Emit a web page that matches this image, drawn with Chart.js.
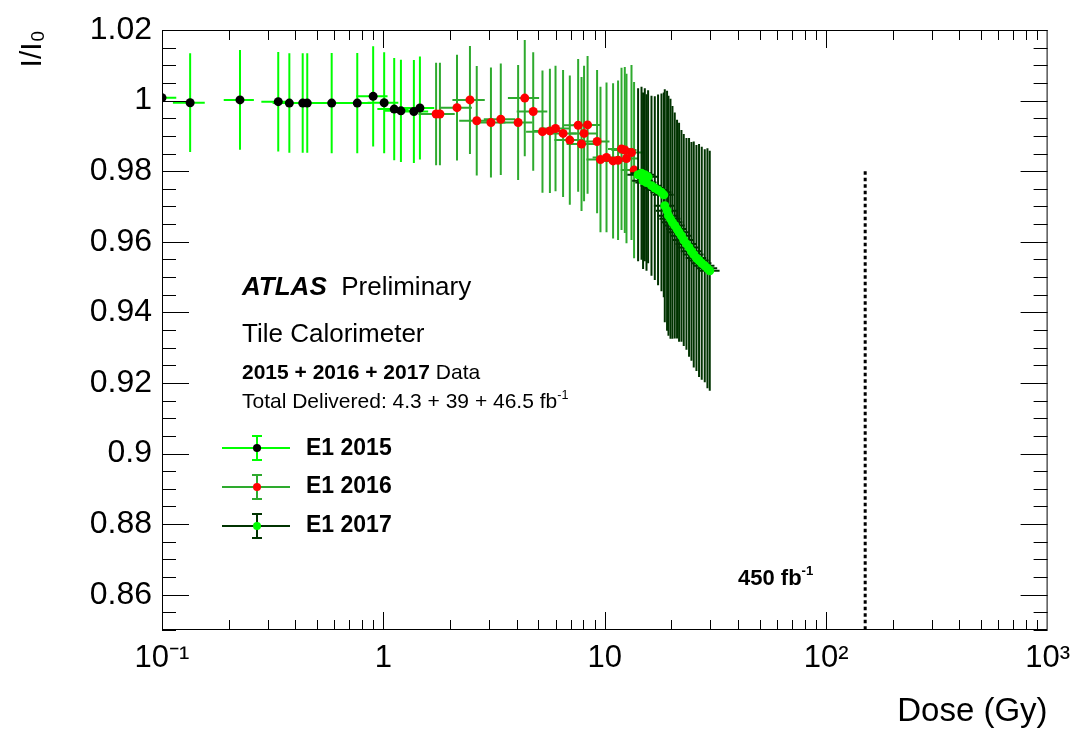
<!DOCTYPE html>
<html lang="en">
<head>
<meta charset="UTF-8">
<title>Tile Calorimeter E1 response vs dose</title>
<script src="https://cdn.jsdelivr.net/npm/chart.js"></script>
<style>
    body {
        margin: 0;
        background: #fff;
        font-family: 'Liberation Sans', Arial, Helvetica, sans-serif;
        color: #000;
    }
    .wrap {
        position: relative;
        width: 1080px;
        height: 739px;
    }
    canvas {
        position: absolute;
        left: 0;
        top: 0;
    }
    .note {
        position: absolute;
        line-height: 1;
        white-space: nowrap;
    }
    .note sup {
        font-size: 0.6em;
        vertical-align: 0.75em;
        line-height: 0;
    }
</style>
</head>
<body>
<div class="wrap">
    <canvas id="chart" width="1080" height="739"></canvas>
    <div class="note" style="left:242px;top:273px;font-size:26px;"><b><i>ATLAS</i></b>&nbsp; Preliminary</div>
    <div class="note" style="left:242px;top:320px;font-size:26px;">Tile Calorimeter</div>
    <div class="note" style="left:242px;top:361px;font-size:21px;"><b>2015 + 2016 + 2017</b> Data</div>
    <div class="note" style="left:242px;top:390px;font-size:21px;">Total Delivered: 4.3 + 39 + 46.5 fb<sup>-1</sup></div>
    <div class="note" style="left:306px;top:436px;font-size:23px;font-weight:bold;">E1 2015</div>
    <div class="note" style="left:306px;top:474px;font-size:23px;font-weight:bold;">E1 2016</div>
    <div class="note" style="left:306px;top:513px;font-size:23px;font-weight:bold;">E1 2017</div>
    <div class="note" style="left:738px;top:567px;font-size:22px;font-weight:bold;">450 fb<sup>-1</sup></div>
</div>
<script>
    // E1 cell response I/I0 against accumulated dose (Gy)
    const dose2015 = [0.100, 0.134, 0.225, 0.335, 0.376, 0.432, 0.453, 0.584, 0.762, 0.899, 1.008, 1.119, 1.200, 1.373, 1.462];
    const resp2015 = [1.0008, 0.9994, 1.0002, 0.9997, 0.9993, 0.9993, 0.9993, 0.9993, 0.9993, 1.0012, 0.9994, 0.9976, 0.9971, 0.9969, 0.9979];
    const doseErr2015 = [0.016, 0.022, 0.035, 0.054, 0.060, 0.070, 0.073, 0.094, 0.122, 0.145, 0.160, 0.180, 0.190, 0.220, 0.235];
    const respErr2015 = [0.0144, 0.0140, 0.0141, 0.0141, 0.0141, 0.0141, 0.0141, 0.0142, 0.0142, 0.0142, 0.0143, 0.0145, 0.0145, 0.0146, 0.0146];

    const dose2016 = [1.73, 1.80, 2.15, 2.46, 2.64, 3.06, 3.39, 4.06, 4.35, 4.75, 5.23, 5.65, 5.99, 6.48, 6.95, 7.58, 7.85, 8.06, 8.36, 9.23, 9.56, 10.18, 10.9, 11.48, 11.9, 12.31, 12.53, 13.2, 13.56];
    const resp2016 = [0.9962, 0.9962, 0.9980, 1.0002, 0.9943, 0.9938, 0.9947, 0.9938, 1.0007, 0.9969, 0.9912, 0.9914, 0.9921, 0.9907, 0.9888, 0.9930, 0.9877, 0.9907, 0.9931, 0.9884, 0.9833, 0.9839, 0.9829, 0.9831, 0.9863, 0.9860, 0.9836, 0.9853, 0.9803];
    const doseErr2016 = [0.29, 0.30, 0.36, 0.41, 0.44, 0.50, 0.55, 0.65, 0.70, 0.75, 0.82, 0.87, 0.92, 0.98, 1.03, 1.10, 1.13, 1.15, 1.18, 1.27, 1.30, 1.37, 1.45, 1.52, 1.56, 1.60, 1.63, 1.70, 1.75];
    const respErr2016 = [0.0145, 0.0145, 0.0150, 0.0153, 0.0155, 0.0156, 0.0158, 0.0163, 0.0165, 0.0168, 0.0173, 0.0176, 0.0178, 0.0180, 0.0183, 0.0188, 0.0190, 0.0192, 0.0195, 0.0203, 0.0206, 0.0212, 0.0220, 0.0226, 0.0230, 0.0235, 0.0240, 0.0248, 0.0250];

    const dose2017 = [14.14, 14.65, 14.89, 15.16, 15.43, 15.69, 16.25, 16.82, 17.40, 18.03, 18.47, 18.66, 19.11, 19.39, 19.80, 20.21, 20.70, 21.20, 21.65, 22.19, 22.73, 23.38, 24.02, 24.63, 25.22, 25.94, 26.65, 27.41, 28.28, 29.08, 29.79];
    const resp2017 = [0.9790, 0.9794, 0.9773, 0.9790, 0.9768, 0.9784, 0.9759, 0.9752, 0.9747, 0.9740, 0.9733, 0.9702, 0.9688, 0.9674, 0.9665, 0.9655, 0.9646, 0.9636, 0.9627, 0.9617, 0.9605, 0.9594, 0.9584, 0.9573, 0.9564, 0.9554, 0.9547, 0.9539, 0.9532, 0.9525, 0.9518];
    const doseErr2017 = [1.5, 1.6, 1.6, 1.65, 1.7, 1.7, 1.75, 1.8, 1.9, 1.95, 2.0, 2.0, 2.1, 2.1, 2.15, 2.2, 2.25, 2.3, 2.35, 2.4, 2.45, 2.5, 2.55, 2.6, 2.7, 2.75, 2.8, 2.9, 3.0, 3.1, 3.2];
    const respErr2017 = [0.0245, 0.0245, 0.025, 0.0245, 0.025, 0.0245, 0.0255, 0.026, 0.027, 0.028, 0.029, 0.033, 0.034, 0.034, 0.034, 0.033, 0.032, 0.031, 0.031, 0.030, 0.030, 0.030, 0.031, 0.031, 0.032, 0.032, 0.033, 0.033, 0.033, 0.034, 0.034];

    const xTickValues = [0.1, 1, 10, 100, 1000];
    const xTickLabels = ['10\u207B\u00B9', '1', '10', '10\u00B2', '10\u00B3'];
    const yTickValues = [0.86, 0.88, 0.9, 0.92, 0.94, 0.96, 0.98, 1, 1.02];
    const yTickLabels = ['0.86', '0.88', '0.9', '0.92', '0.94', '0.96', '0.98', '1', '1.02'];

    // 450 fb-1 projection line
    const lumiLineDose = 150;
    const lumiLineTop = 0.98;

    const FONT = "'Liberation Sans', Arial, Helvetica, sans-serif";
    Chart.defaults.font.family = FONT;
    Chart.defaults.color = '#000';

    function makeSet(label, doses, resp, dErr, rErr, marker, bar, order) {
        return {
            label: label,
            data: doses.map((d, i) => ({ x: d, y: resp[i] })),
            xErr: dErr,
            yErr: rErr,
            barColor: bar,
            pointBackgroundColor: marker,
            pointBorderColor: marker,
            pointBorderWidth: 0,
            pointRadius: 4.5,
            pointHoverRadius: 4.5,
            showLine: false,
            order: order
        };
    }

    const datasets = [
        makeSet('E1 2015', dose2015, resp2015, doseErr2015, respErr2015, '#000000', '#00ff00', 2),
        makeSet('E1 2016', dose2016, resp2016, doseErr2016, respErr2016, '#ff0000', '#2eaa2e', 1),
        makeSet('E1 2017', dose2017, resp2017, doseErr2017, respErr2017, '#00ff00', '#003300', 0)
    ];

    // error bars drawn just before each dataset's markers
    const errorBars = {
        id: 'errorBars',
        beforeDatasetDraw(chart, args) {
            const ds = chart.data.datasets[args.index];
            const { ctx, chartArea: a, scales: { x, y } } = chart;
            ctx.save();
            ctx.beginPath();
            ctx.rect(a.left, a.top, a.right - a.left, a.bottom - a.top);
            ctx.clip();
            ctx.strokeStyle = ds.barColor;
            ctx.lineWidth = 2;
            ds.data.forEach((p, i) => {
                const px = x.getPixelForValue(p.x);
                const py = y.getPixelForValue(p.y);
                ctx.beginPath();
                ctx.moveTo(px, y.getPixelForValue(p.y - ds.yErr[i]));
                ctx.lineTo(px, y.getPixelForValue(p.y + ds.yErr[i]));
                ctx.moveTo(x.getPixelForValue(p.x - ds.xErr[i]), py);
                ctx.lineTo(x.getPixelForValue(p.x + ds.xErr[i]), py);
                ctx.stroke();
            });
            ctx.restore();
        }
    };

    // ROOT-style frame with inward ticks on all sides, dotted line and legend symbols
    const rootFrame = {
        id: 'rootFrame',
        afterDraw(chart) {
            const { ctx, chartArea: a, scales: { x, y } } = chart;
            ctx.save();
            ctx.strokeStyle = '#000';
            ctx.lineWidth = 1;
            ctx.strokeRect(a.left + 0.5, a.top + 0.5, a.right - a.left - 1, a.bottom - a.top - 1);

            ctx.beginPath();
            for (let k = 0; k <= 34; k++) {
                const v = 0.85 + k * 0.005;
                const major = Math.round(v * 1000) % 20 === 0;
                const len = major ? 27 : 14;
                const py = Math.round(y.getPixelForValue(v)) + 0.5;
                ctx.moveTo(a.left, py); ctx.lineTo(a.left + len, py);
                ctx.moveTo(a.right, py); ctx.lineTo(a.right - len, py);
            }
            for (let e = -1; e < 3; e++) {
                for (let m = 1; m <= 9; m++) {
                    const v = m * Math.pow(10, e);
                    const len = m === 1 ? 18 : 10;
                    const px = Math.round(x.getPixelForValue(v)) + 0.5;
                    ctx.moveTo(px, a.bottom); ctx.lineTo(px, a.bottom - len);
                    ctx.moveTo(px, a.top); ctx.lineTo(px, a.top + len);
                }
            }
            ctx.stroke();

            // dotted 450 fb-1 line
            const lx = x.getPixelForValue(lumiLineDose);
            ctx.beginPath();
            ctx.setLineDash([3.5, 3]);
            ctx.lineWidth = 3;
            ctx.moveTo(lx, y.getPixelForValue(lumiLineTop));
            ctx.lineTo(lx, a.bottom);
            ctx.stroke();
            ctx.setLineDash([]);

            // legend symbols
            const rows = [448, 487, 526];
            chart.data.datasets.forEach((ds, i) => {
                const cy = rows[i];
                const cx = 257;
                ctx.strokeStyle = ds.barColor;
                ctx.lineWidth = 2;
                ctx.beginPath();
                ctx.moveTo(222, cy); ctx.lineTo(290, cy);
                ctx.moveTo(cx, cy - 12); ctx.lineTo(cx, cy + 12);
                ctx.moveTo(cx - 5, cy - 12); ctx.lineTo(cx + 5, cy - 12);
                ctx.moveTo(cx - 5, cy + 12); ctx.lineTo(cx + 5, cy + 12);
                ctx.stroke();
                ctx.fillStyle = ds.pointBackgroundColor;
                ctx.beginPath();
                ctx.arc(cx, cy, 4, 0, Math.PI * 2);
                ctx.fill();
            });
            ctx.restore();
        }
    };

    new Chart(document.getElementById('chart'), {
        type: 'scatter',
        data: { datasets: datasets },
        options: {
            responsive: false,
            animation: false,
            events: [],
            layout: { padding: { left: 0, right: 32, top: 30, bottom: 4 } },
            plugins: {
                legend: { display: false },
                tooltip: { enabled: false }
            },
            scales: {
                x: {
                    type: 'logarithmic',
                    min: 0.1,
                    max: 1000,
                    afterBuildTicks: s => { s.ticks = xTickValues.map(v => ({ value: v })); },
                    afterFit: s => { s.height = 105; },
                    grid: { display: false, drawTicks: false },
                    border: { display: false },
                    ticks: {
                        autoSkip: false,
                        maxRotation: 0,
                        padding: 10,
                        color: '#000',
                        font: { size: 31 },
                        callback: (v, i) => xTickLabels[i]
                    },
                    title: {
                        display: true,
                        text: 'Dose (Gy)',
                        align: 'end',
                        color: '#000',
                        font: { size: 33 },
                        padding: { top: 0, bottom: 3 }
                    }
                },
                y: {
                    min: 0.85,
                    max: 1.02,
                    afterBuildTicks: s => { s.ticks = yTickValues.map(v => ({ value: v })); },
                    afterFit: s => { s.width = 162; },
                    grid: { display: false, drawTicks: false },
                    border: { display: false },
                    ticks: {
                        autoSkip: false,
                        padding: 10,
                        color: '#000',
                        font: { size: 32 },
                        callback: (v, i) => yTickLabels[i]
                    },
                    title: {
                        display: true,
                        text: 'I/I\u2080',
                        align: 'end',
                        color: '#000',
                        font: { size: 30 },
                        padding: { top: 15, bottom: 0 }
                    }
                }
            }
        },
        plugins: [errorBars, rootFrame]
    });
</script>
</body>
</html>
